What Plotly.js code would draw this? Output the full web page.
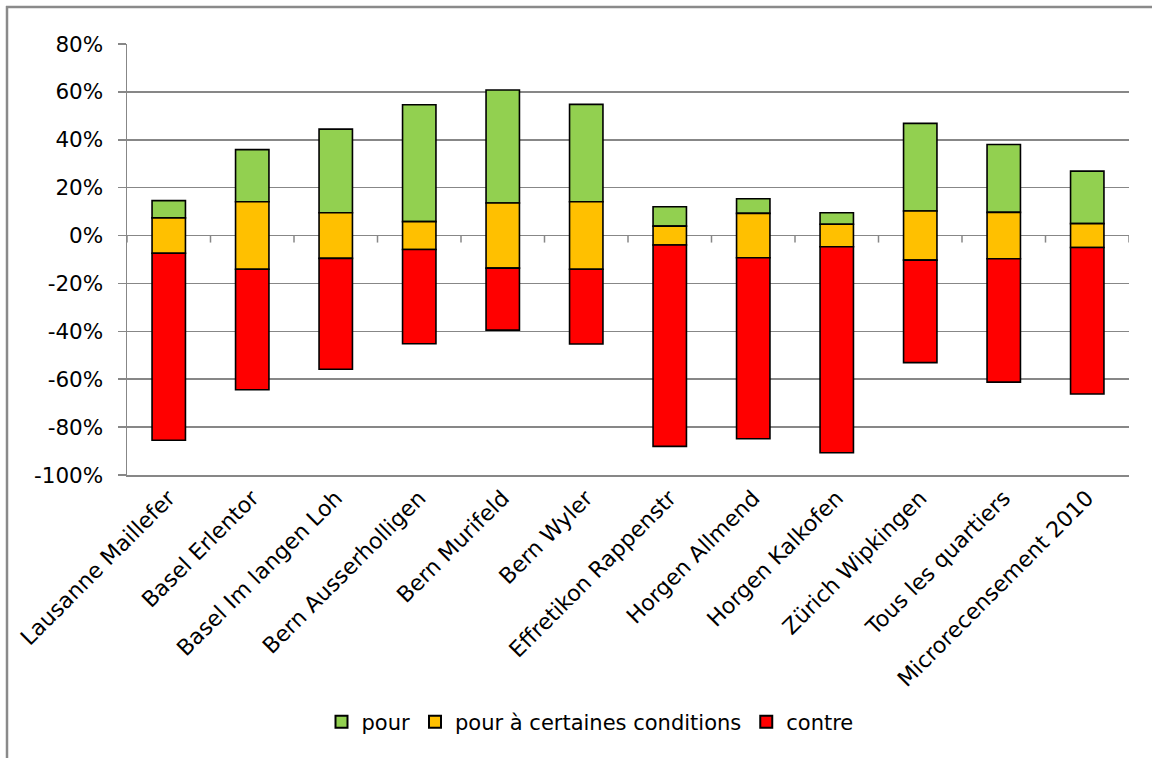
<!DOCTYPE html>
<html>
<head>
<meta charset="utf-8">
<script src="https://cdn.plot.ly/plotly-3.0.1.min.js"></script>
<style>
  html, body { margin: 0; padding: 0; background: #ffffff; }
  #chart { width: 1152px; height: 758px; }
</style>
</head>
<body>
<div id="chart"></div>
<script>
// ---- Data (percent) ----
const categories = [
  "Lausanne Maillefer", "Basel Erlentor", "Basel Im langen Loh", "Bern Ausserholligen",
  "Bern Murifeld", "Bern Wyler", "Effretikon Rappenstr", "Horgen Allmend",
  "Horgen Kalkofen", "Zürich Wipkingen", "Tous les quartiers", "Microrecensement 2010"
];
const pour       = [7.2, 21.8, 34.9, 48.8, 47.2, 40.7, 8.1, 6.1, 4.8, 36.6, 28.3, 21.9];
const conditions = [14.8, 28.2, 19.1, 11.6, 27.2, 28.2, 7.9, 18.5, 9.4, 20.5, 19.4, 10.0];
const contre     = [78.1, 50.3, 46.3, 39.4, 25.9, 31.2, 84.1, 75.6, 86.0, 42.8, 51.5, 61.2];
const seriesNames = ["pour", "pour à certaines conditions", "contre"];
const yTickVals = [-100, -80, -60, -40, -20, 0, 20, 40, 60, 80];

// ---- Geometry ----
const W = 1152, H = 758;
const M = { l: 127, r: 23, t: 44, b: 283 };
const pw = W - M.l - M.r, ph = H - M.t - M.b;
const px2x = p => (p - M.l) / pw;
const py2y = p => (H - M.b - p) / ph;

const font = "DejaVu Sans, Verdana, sans-serif";
const gridCol = "#878787";

const condHalf = conditions.map(c => c / 2);
const mk = (color) => ({ color: color, line: { color: "#000000", width: 1.6 } });

const traces = [
  {
    type: "bar", name: seriesNames[0], x: categories, y: pour,
    base: condHalf, marker: mk("#92D050"), hoverinfo: "x+y+name"
  },
  {
    type: "bar", name: seriesNames[1], x: categories, y: conditions,
    base: condHalf.map(v => -v), marker: mk("#FFC000"), hoverinfo: "x+y+name"
  },
  {
    type: "bar", name: seriesNames[2], x: categories, y: contre,
    base: contre.map((v, i) => -condHalf[i] - v), marker: mk("#FF0000"), hoverinfo: "x+y+name"
  }
];

// tick marks at category boundaries on the zero line
const shapes = [];
for (let i = 0; i <= categories.length; i++) {
  shapes.push({
    type: "line", xref: "x", yref: "y", ysizemode: "pixel", yanchor: 0,
    x0: i - 0.5, x1: i - 0.5, y0: 0, y1: -7,
    line: { color: gridCol, width: 1.5 }, layer: "below"
  });
}
// chart frame (left and top edges)
shapes.push({ type: "line", xref: "paper", yref: "paper",
  x0: px2x(7), x1: px2x(7), y0: py2y(6), y1: py2y(770),
  line: { color: "#8a8a8a", width: 2.5 } });
shapes.push({ type: "line", xref: "paper", yref: "paper",
  x0: px2x(6), x1: px2x(1160), y0: py2y(7), y1: py2y(7),
  line: { color: "#8a8a8a", width: 2.5 } });

const layout = {
  width: W, height: H,
  margin: M,
  paper_bgcolor: "#ffffff", plot_bgcolor: "#ffffff",
  barmode: "overlay",
  bargap: 0.6,
  font: { family: font, size: 21, color: "#000000" },
  showlegend: true,
  legend: {
    orientation: "h", x: px2x(590), xanchor: "center", y: py2y(722), yanchor: "middle",
    font: { family: font, size: 21, color: "#000000" },
    traceorder: "normal", itemsizing: "constant", itemwidth: 30,
    bgcolor: "rgba(0,0,0,0)"
  },
  xaxis: {
    type: "category", categoryorder: "array", categoryarray: categories,
    range: [-0.5, categories.length - 0.5],
    tickangle: -45, ticks: "", showgrid: false, zeroline: false,
    showline: true, linecolor: gridCol, linewidth: 1.5,
    tickfont: { family: font, size: 22, color: "#000000" },
    automargin: false
  },
  yaxis: {
    range: [-100, 80], tickvals: yTickVals,
    ticktext: yTickVals.map(v => v + "%"),
    showgrid: true, gridcolor: gridCol, gridwidth: 1.5,
    zeroline: true, zerolinecolor: gridCol, zerolinewidth: 1.5,
    showline: true, linecolor: gridCol, linewidth: 1.5,
    ticks: "outside", ticklen: 8, tickcolor: gridCol, tickwidth: 1.5,
    ticklabelstandoff: 10,
    tickfont: { family: font, size: 21.5, color: "#000000" },
    automargin: false
  },
  shapes: shapes
};

Plotly.newPlot("chart", traces, layout, { displayModeBar: false, staticPlot: true });
</script>
</body>
</html>
